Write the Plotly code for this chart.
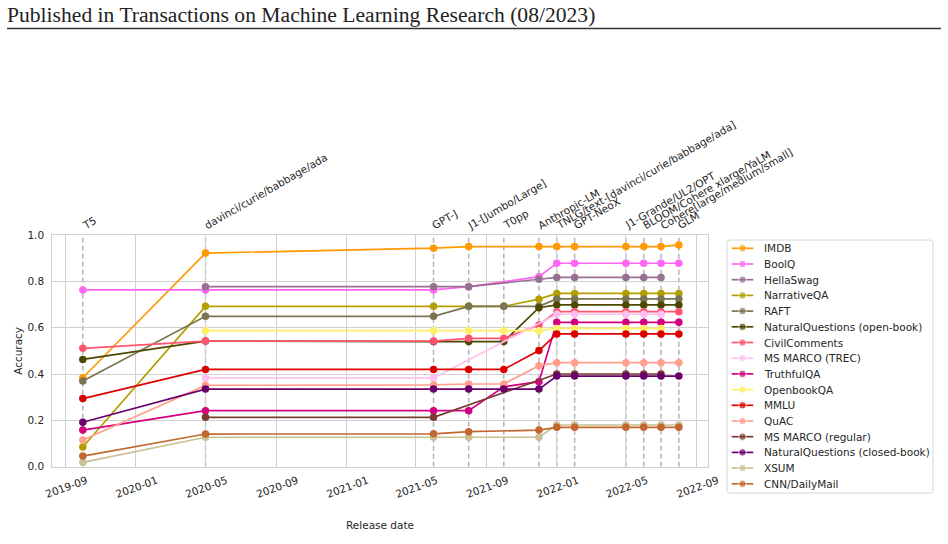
import plotly.graph_objects as go

W, H = 948, 544

# ---------------- data ----------------
model_dates = ["2019-10-01", "2020-05-01", "2021-06-01", "2021-08-01", "2021-10-01", "2021-12-01",
               "2022-01-01", "2022-02-01", "2022-05-01", "2022-06-01", "2022-07-01", "2022-08-01"]
model_labels = ["T5", "davinci/curie/babbage/ada", "GPT-J", "J1-[Jumbo/Large]", "T0pp", "Anthropic-LM",
                "TNLG/text-[davinci/curie/babbage/ada]", "GPT-NeoX", "J1-Grande/UL2/OPT",
                "BLOOM/Cohere xlarge/YaLM", "Cohere[large/medium/small]", "GLM"]

imdb = [0.384, 0.922, 0.943, 0.950, None, 0.950, 0.950, 0.950, 0.950, 0.950, 0.950, 0.957]
boolq = [0.763, 0.763, 0.763, 0.777, None, 0.820, 0.878, 0.878, 0.878, 0.878, 0.878, 0.878]
hellaswag = [None, 0.777, 0.777, 0.777, None, 0.809, 0.817, 0.817, 0.817, 0.817, 0.817, None]
narrativeqa = [0.085, 0.692, 0.692, 0.692, 0.692, 0.723, 0.748, 0.748, 0.748, 0.748, 0.748, 0.748]
raft = [0.370, 0.649, 0.649, 0.692, 0.692, 0.692, 0.724, 0.724, 0.724, 0.724, 0.724, 0.724]
nq_open = [0.463, 0.542, 0.540, 0.540, 0.540, 0.686, 0.698, 0.698, 0.698, 0.698, 0.698, 0.698]
civil = [0.511, 0.542, 0.542, 0.554, 0.554, 0.612, 0.669, 0.669, 0.669, 0.669, 0.669, 0.669]
msmarco_trec = [None, 0.383, 0.383, None, None, None, 0.658, 0.658, 0.658, 0.658, 0.658, None]
truthfulqa = [0.158, 0.242, 0.242, 0.242, 0.345, 0.367, 0.623, 0.623, 0.623, 0.623, 0.623, 0.623]
openbookqa = [None, 0.587, 0.587, 0.587, 0.587, 0.587, 0.597, 0.597, 0.597, 0.597, 0.597, None]
mmlu = [0.294, 0.420, 0.420, 0.420, 0.420, 0.501, 0.573, 0.573, 0.573, 0.573, 0.573, 0.573]
quac = [0.115, 0.351, 0.353, 0.357, 0.357, 0.436, 0.449, 0.449, 0.449, 0.449, 0.449, 0.449]
msmarco_reg = [None, 0.213, 0.213, None, None, None, 0.400, 0.400, 0.400, 0.400, 0.400, None]
nq_closed = [0.192, 0.335, 0.335, 0.335, 0.335, 0.335, 0.391, 0.391, 0.391, 0.391, 0.391, 0.391]
xsum = [0.019, 0.127, 0.127, 0.127, None, 0.127, 0.180, 0.180, 0.180, 0.180, 0.180, 0.180]
cnn = [0.046, 0.141, 0.142, 0.151, None, 0.158, 0.170, 0.170, 0.170, 0.170, 0.170, 0.170]

series_names = ["IMDB", "BoolQ", "HellaSwag", "NarrativeQA", "RAFT", "NaturalQuestions (open-book)",
                "CivilComments", "MS MARCO (TREC)", "TruthfulQA", "OpenbookQA", "MMLU", "QuAC",
                "MS MARCO (regular)", "NaturalQuestions (closed-book)", "XSUM", "CNN/DailyMail"]
series_values = [imdb, boolq, hellaswag, narrativeqa, raft, nq_open, civil, msmarco_trec, truthfulqa,
                 openbookqa, mmlu, quac, msmarco_reg, nq_closed, xsum, cnn]
series_colors = ["#ff9a00", "#ff66f2", "#987092", "#b3a000", "#7a7452", "#4d4800",
                 "#ff5470", "#ffbff0", "#d3007f", "#fff066", "#dd0000", "#ffa08e",
                 "#7b3c30", "#6a006c", "#c9c195", "#c2682f"]

x_tick_vals = ["2019-09-01", "2020-01-01", "2020-05-01", "2020-09-01", "2021-01-01", "2021-05-01",
               "2021-09-01", "2022-01-01", "2022-05-01", "2022-09-01"]
x_tick_text = ["2019-09", "2020-01", "2020-05", "2020-09", "2021-01", "2021-05",
               "2021-09", "2022-01", "2022-05", "2022-09"]
y_tick_vals = [0.0, 0.2, 0.4, 0.6, 0.8, 1.0]
y_tick_text = ["0.0", "0.2", "0.4", "0.6", "0.8", "1.0"]

# ---------------- layout geometry (pixels) ----------------
PL, PR, PT, PB = 52.3, 708.0, 235.0, 466.7
LG_L, LG_R, LG_T, LG_B = 727.0, 933.0, 240.0, 493.0
FONT = "DejaVu Sans"
TXT = "#262626"
GRID = "#d0d0d0"


def px_x(v):
    return v / W


def px_y(v):
    return 1 - v / H


fig = go.Figure()
annotations = []
shapes = []

for name, vals, col in zip(series_names, series_values, series_colors):
    fig.add_trace(go.Scatter(
        x=model_dates, y=vals, mode="lines+markers", name=name,
        line=dict(color=col, width=1.7), marker=dict(color=col, size=7.5),
        connectgaps=True, showlegend=False, xaxis="x", yaxis="y"))

# manual legend (matplotlib-like compact spacing)
item_gap = 15.7
for i, (name, col) in enumerate(zip(series_names, series_colors)):
    yy = LG_T + 8.3 + item_gap * i
    fig.add_trace(go.Scatter(
        x=[731.7, 742.5, 753.3], y=[yy, yy, yy], mode="lines+markers",
        line=dict(color=col, width=1.7), marker=dict(color=col, size=[0, 7.5, 0]),
        showlegend=False, xaxis="x2", yaxis="y2", hoverinfo="skip"))
    annotations.append(dict(x=px_x(761.7), y=px_y(yy), xref="paper", yref="paper", text=name,
                            showarrow=False, xanchor="left", yanchor="middle",
                            font=dict(family=FONT, size=10.5, color=TXT)))

# legend frame
r = 3
path = (f"M {LG_L+r},{LG_T} L {LG_R-r},{LG_T} Q {LG_R},{LG_T} {LG_R},{LG_T+r} "
        f"L {LG_R},{LG_B-r} Q {LG_R},{LG_B} {LG_R-r},{LG_B} L {LG_L+r},{LG_B} "
        f"Q {LG_L},{LG_B} {LG_L},{LG_B-r} L {LG_L},{LG_T+r} Q {LG_L},{LG_T} {LG_L+r},{LG_T} Z")
shapes.append(dict(type="path", path=path, xref="x2", yref="y2",
                   line=dict(color="#d6d6d6", width=1), fillcolor="white", layer="below"))

# vertical dashed model lines
for d in model_dates:
    shapes.append(dict(type="line", xref="x", yref="y", x0=d, x1=d, y0=0, y1=1,
                       line=dict(color="#b4b4b4", width=1.5, dash="5px,3px"), layer="below"))

# header rule
shapes.append(dict(type="line", xref="paper", yref="paper", x0=px_x(7), x1=px_x(941),
                   y0=px_y(28.5), y1=px_y(28.5), line=dict(color="#333333", width=1.3)))

# model labels on top
for d, lab in zip(model_dates, model_labels):
    annotations.append(dict(x=d, y=px_y(PT), xref="x", yref="paper", text=lab, showarrow=False,
                            textangle=-30, xanchor="left", yanchor="bottom",
                            xshift=-6, yshift=1,
                            font=dict(family=FONT, size=10.5, color=TXT)))
# axis titles
annotations.append(dict(x=px_x((PL + PR) / 2), y=px_y(524.7), xref="paper", yref="paper",
                        text="Release date", showarrow=False, xanchor="center", yanchor="middle",
                        font=dict(family=FONT, size=10.5, color=TXT)))
annotations.append(dict(x=px_x(18), y=px_y((PT + PB) / 2), xref="paper", yref="paper",
                        text="Accuracy", showarrow=False, textangle=-90,
                        xanchor="center", yanchor="middle",
                        font=dict(family=FONT, size=10.5, color=TXT)))
# page header
annotations.append(dict(x=px_x(5), y=px_y(15), xref="paper", yref="paper",
                        text="Published in Transactions on Machine Learning Research (08/2023)",
                        showarrow=False, xanchor="left", yanchor="middle",
                        font=dict(family="Liberation Serif", size=21.6, color="#222222")))

fig.update_layout(
    width=W, height=H, autosize=False, margin=dict(l=0, r=0, t=0, b=0, autoexpand=False),
    paper_bgcolor="white", plot_bgcolor="white",
    showlegend=False, shapes=shapes, annotations=annotations,
    xaxis=dict(domain=[px_x(PL), px_x(PR)], type="date", automargin=False,
               range=["2019-08-09", "2022-09-20 14:00"],
               tickvals=x_tick_vals, ticktext=x_tick_text,
               tickangle=-20, ticklabelshift=21, ticklabelstandoff=3,
               tickfont=dict(family=FONT, size=10.5, color=TXT),
               showgrid=True, gridcolor=GRID, gridwidth=1, zeroline=False,
               showline=True, linecolor=GRID, linewidth=1.2, mirror=True, ticks=""),
    yaxis=dict(domain=[px_y(PB), px_y(PT)], range=[0, 1], automargin=False,
               tickvals=y_tick_vals, ticktext=y_tick_text,
               tickfont=dict(family=FONT, size=10.5, color=TXT), ticklabelstandoff=5,
               showgrid=True, gridcolor=GRID, gridwidth=1, zeroline=False,
               showline=True, linecolor=GRID, linewidth=1.2, mirror=True, ticks=""),
    xaxis2=dict(domain=[px_x(LG_L - 2), px_x(LG_R + 2)], range=[LG_L - 2, LG_R + 2],
                visible=False, anchor="y2", automargin=False),
    yaxis2=dict(domain=[px_y(LG_B + 2), px_y(LG_T - 2)], range=[LG_B + 2, LG_T - 2],
                visible=False, anchor="x2", automargin=False),
)

fig.write_html("out.html")
